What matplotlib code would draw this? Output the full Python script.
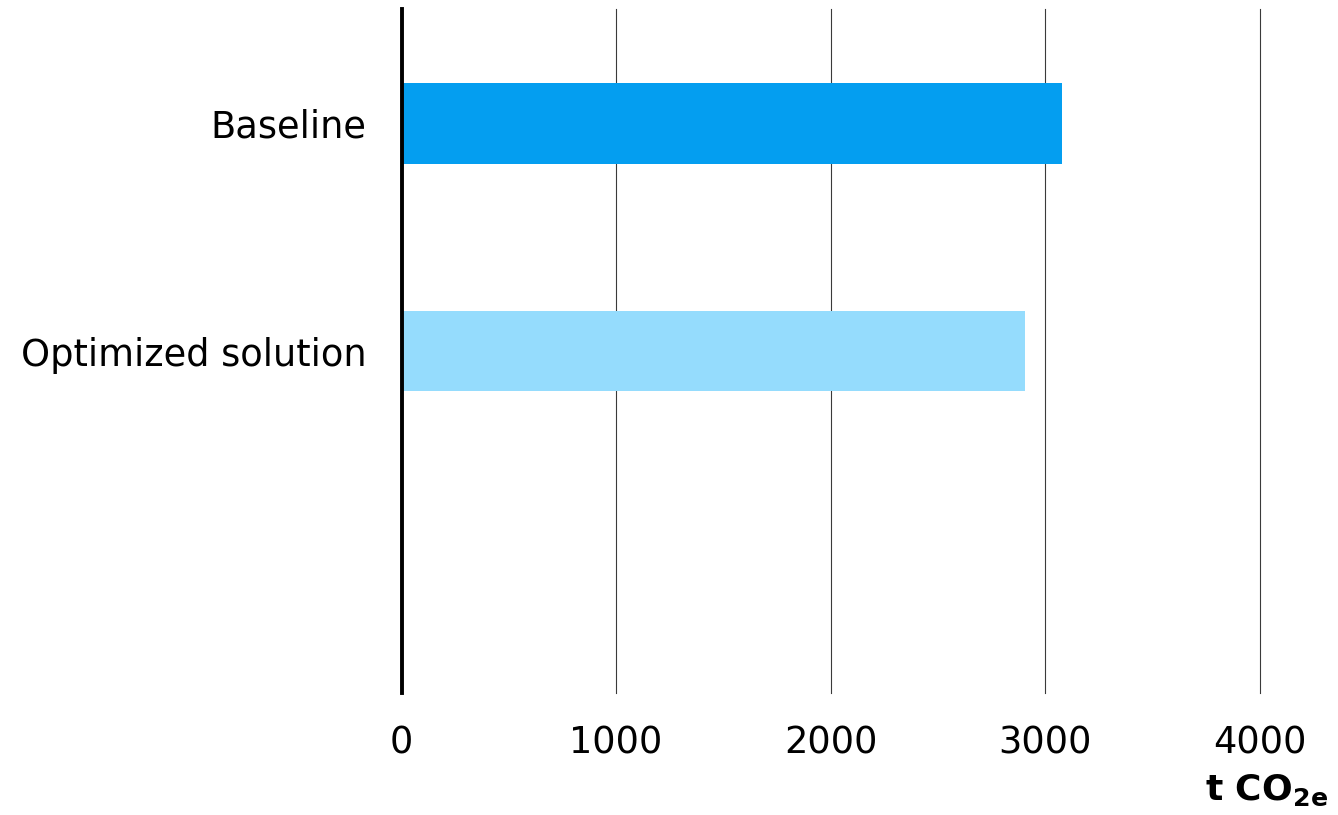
import matplotlib
matplotlib.use("Agg")
import matplotlib.pyplot as plt

# Emissions per scenario (t CO2e)
categories = ["Baseline", "Optimized solution", ""]
values = [3076, 2904, None]
colors = ["#049EF0", "#95DCFD"]
x_ticks = [0, 1000, 2000, 3000, 4000]

plt.rcParams["font.family"] = ["DejaVu Sans"]

fig = plt.figure(figsize=(13.38, 8.15), dpi=100)
ax = fig.add_axes([0.3001, 0.150, 0.6417, 0.8386])

ypos = list(range(len(categories)))
for y, v, c in zip(ypos, values, colors):
    if v is not None:
        ax.barh(y, v, height=0.354, color=c, zorder=2)

ax.set_xlim(0, 4000)
ax.set_ylim(len(categories) - 0.5, -0.5)
ax.set_xticks(x_ticks)
ax.set_xticklabels([str(t) for t in x_ticks])
ax.set_yticks(ypos)
ax.set_yticklabels(categories)

ax.tick_params(axis="both", length=0, labelsize=26.5)
ax.tick_params(axis="x", pad=23)
ax.tick_params(axis="y", pad=25)

for t in x_ticks[1:]:
    ax.axvline(t, color="#3a3a3a", linewidth=0.8, zorder=1, clip_on=False)
ax.axvline(0, color="black", linewidth=2.8, zorder=3, clip_on=False)

for s in ax.spines.values():
    s.set_visible(False)

fig.text(0.9925, 0.018, r"t CO$_{\mathbf{2e}}$", ha="right", va="baseline",
         fontsize=26, fontweight="bold")

fig.savefig("out.png", dpi=100, facecolor="white")
